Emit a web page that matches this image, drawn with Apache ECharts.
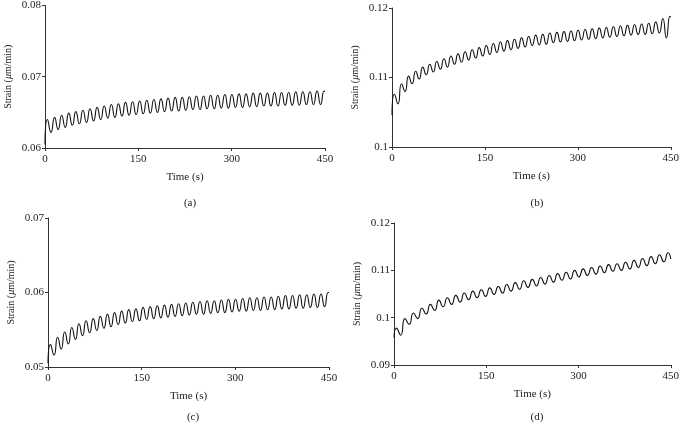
<!DOCTYPE html>
<html><head><meta charset="utf-8">
<script src="https://cdn.jsdelivr.net/npm/echarts@6/dist/echarts.min.js"></script>
<style>html,body{margin:0;padding:0;background:#fff}#c{width:682px;height:423px}</style>
</head><body><div id="c"></div>
<script>
// sample times (s) for panels a, b, c
const timeABC = [0, 4, 9.7, 15.4, 21.1, 26.8, 32.5, 38.2, 43.9, 49.6, 55.3, 61, 66.7, 72.4, 78.1, 83.8, 89.5, 95.2, 100.9, 106.6, 112.3, 118, 123.7, 129.4, 135.1, 140.8, 146.5, 152.2, 157.9, 163.6, 169.3, 175, 180.7, 186.4, 192.1, 197.8, 203.5, 209.2, 214.9, 220.6, 226.3, 232, 237.7, 243.4, 249.1, 254.8, 260.5, 266.2, 271.9, 277.6, 283.3, 289, 294.7, 300.4, 306.1, 311.8, 317.5, 323.2, 328.9, 334.6, 340.3, 346, 351.7, 357.4, 363.1, 368.8, 374.5, 380.2, 385.9, 391.6, 397.3, 403, 408.7, 414.4, 420.1, 425.8, 431.5, 437.2, 442.9, 448.6, 450];
// sample times (s) for panel d
const timeD = [0, 4, 10.9, 17.8, 24.7, 31.6, 38.5, 45.4, 52.3, 59.2, 66.1, 73, 79.9, 86.8, 93.7, 100.6, 107.5, 114.4, 121.3, 128.2, 135.1, 142, 148.9, 155.8, 162.7, 169.6, 176.5, 183.4, 190.3, 197.2, 204.1, 211, 217.9, 224.8, 231.7, 238.6, 245.5, 252.4, 259.3, 266.2, 273.1, 280, 286.9, 293.8, 300.7, 307.6, 314.5, 321.4, 328.3, 335.2, 342.1, 349, 355.9, 362.8, 369.7, 376.6, 383.5, 390.4, 397.3, 404.2, 411.1, 418, 424.9, 431.8, 438.7, 445.6, 450];

const strainA = [0.0605,
 0.0640, 0.0622, 0.0643, 0.0626, 0.0646, 0.0629, 0.0649, 0.0632, 0.0651, 0.0634,
 0.0653, 0.0636, 0.0655, 0.0638, 0.0657, 0.0640, 0.0659, 0.0642, 0.0661, 0.0643,
 0.0662, 0.0645, 0.0664, 0.0646, 0.0665, 0.0647, 0.0666, 0.0648, 0.0667, 0.0649,
 0.0668, 0.0650, 0.0669, 0.0651, 0.0670, 0.0652, 0.0671, 0.0652, 0.0671, 0.0653,
 0.0672, 0.0654, 0.0673, 0.0654, 0.0673, 0.0655, 0.0674, 0.0655, 0.0674, 0.0656,
 0.0675, 0.0656, 0.0675, 0.0657, 0.0676, 0.0657, 0.0676, 0.0658, 0.0677, 0.0658,
 0.0677, 0.0659, 0.0677, 0.0659, 0.0678, 0.0659, 0.0678, 0.0660, 0.0678, 0.0660,
 0.0679, 0.0660, 0.0679, 0.0661, 0.0679, 0.0661, 0.0680, 0.0661,
 0.0680, 0.0679];

const strainB = [0.1046,
 0.1076, 0.1062, 0.1091, 0.1080, 0.1102, 0.1091, 0.1109, 0.1098, 0.1115, 0.1104,
 0.1119, 0.1108, 0.1123, 0.1112, 0.1127, 0.1115, 0.1131, 0.1119, 0.1134, 0.1122,
 0.1137, 0.1125, 0.1140, 0.1128, 0.1143, 0.1131, 0.1146, 0.1133, 0.1149, 0.1136,
 0.1151, 0.1138, 0.1153, 0.1140, 0.1155, 0.1142, 0.1157, 0.1144, 0.1159, 0.1146,
 0.1161, 0.1147, 0.1162, 0.1148, 0.1164, 0.1150, 0.1165, 0.1151, 0.1166, 0.1152,
 0.1167, 0.1153, 0.1168, 0.1154, 0.1169, 0.1155, 0.1170, 0.1156, 0.1171, 0.1157,
 0.1172, 0.1158, 0.1173, 0.1159, 0.1174, 0.1160, 0.1175, 0.1161, 0.1176, 0.1162,
 0.1177, 0.1162, 0.1178, 0.1163, 0.1180, 0.1164, 0.1185, 0.1157,
 0.1188, 0.1187];

const strainC = [0.0505,
 0.0530, 0.0516, 0.0540, 0.0524, 0.0547, 0.0531, 0.0553, 0.0537, 0.0558, 0.0542,
 0.0562, 0.0546, 0.0565, 0.0549, 0.0568, 0.0552, 0.0571, 0.0554, 0.0573, 0.0557,
 0.0575, 0.0559, 0.0577, 0.0561, 0.0578, 0.0562, 0.0580, 0.0564, 0.0581, 0.0565,
 0.0582, 0.0566, 0.0583, 0.0567, 0.0584, 0.0568, 0.0585, 0.0569, 0.0586, 0.0570,
 0.0587, 0.0571, 0.0588, 0.0571, 0.0589, 0.0572, 0.0589, 0.0573, 0.0590, 0.0573,
 0.0591, 0.0574, 0.0591, 0.0575, 0.0592, 0.0575, 0.0593, 0.0576, 0.0593, 0.0576,
 0.0594, 0.0577, 0.0594, 0.0577, 0.0595, 0.0578, 0.0596, 0.0578, 0.0596, 0.0579,
 0.0597, 0.0579, 0.0597, 0.0580, 0.0598, 0.0580, 0.0598, 0.0581,
 0.0600, 0.0600];

const strainD = [0.0958,
 0.0978, 0.0963, 0.0998, 0.0986, 0.1010, 0.0998, 0.1020, 0.1008, 0.1028, 0.1015,
 0.1037, 0.1023, 0.1042, 0.1028, 0.1047, 0.1033, 0.1052, 0.1038, 0.1056, 0.1042,
 0.1059, 0.1045, 0.1063, 0.1049, 0.1066, 0.1052, 0.1070, 0.1056, 0.1074, 0.1060,
 0.1078, 0.1064, 0.1081, 0.1067, 0.1085, 0.1071, 0.1089, 0.1075, 0.1093, 0.1079,
 0.1096, 0.1082, 0.1100, 0.1086, 0.1103, 0.1089, 0.1106, 0.1092, 0.1109, 0.1095,
 0.1112, 0.1098, 0.1114, 0.1100, 0.1117, 0.1103, 0.1121, 0.1106, 0.1125, 0.1110,
 0.1129, 0.1114, 0.1133, 0.1118,
 0.1137, 0.1124];

const xTicks = [0, 150, 300, 450];
const yRanges = [[0.06, 0.08], [0.10, 0.12], [0.05, 0.07], [0.09, 0.12]];
const panelLabels = ['(a)', '(b)', '(c)', '(d)'];
const xName = 'Time (s)';

const FONT = '"Liberation Serif", "DejaVu Serif", serif';
const TXT = '#222';
const grids = [
  {left: 45, top: 5, width: 280, height: 143},
  {left: 392, top: 8, width: 282, height: 139},
  {left: 48, top: 218, width: 281, height: 149},
  {left: 394, top: 223, width: 277, height: 142}
];
const labelPos = [[185, 193], [532, 193], [188, 407], [532, 407]];
const series = [[timeABC, strainA], [timeABC, strainB], [timeABC, strainC], [timeD, strainD]];

function pairs(t, v) { return t.map((x, i) => [x, v[i]]); }

const option = {
  animation: false,
  backgroundColor: '#fff',
  grid: grids,
  title: panelLabels.map((s, i) => ({
    text: s, left: labelPos[i][0], top: labelPos[i][1], textAlign: 'center',
    textStyle: {fontFamily: FONT, fontSize: 11, fontWeight: 'normal', color: TXT}
  })),
  xAxis: grids.map((g, i) => ({
    type: 'value', gridIndex: i, min: 0, max: 450, interval: 150,
    name: xName, nameLocation: 'middle', nameGap: 24,
    nameTextStyle: {fontFamily: FONT, fontSize: 11, color: TXT},
    axisLine: {lineStyle: {color: '#333', width: 1}},
    axisTick: {show: true, length: 3, lineStyle: {color: '#333'}},
    axisLabel: {fontFamily: FONT, fontSize: 11, color: TXT, margin: 6},
    splitLine: {show: false}
  })),
  yAxis: grids.map((g, i) => ({
    type: 'value', gridIndex: i, min: yRanges[i][0], max: yRanges[i][1], interval: 0.01,
    name: '{n|Strain (}{i|\u03bc}{n|m/min)}', nameLocation: 'middle', nameGap: 32,
    nameTextStyle: {fontFamily: FONT, fontSize: 10, color: TXT,
      rich: {n: {fontFamily: FONT, fontSize: 10, color: TXT}, i: {fontFamily: FONT, fontSize: 10, color: TXT, fontStyle: 'italic'}}},
    axisLine: {show: true, lineStyle: {color: '#333', width: 1}},
    axisTick: {show: true, length: 3, lineStyle: {color: '#333'}},
    axisLabel: {fontFamily: FONT, fontSize: 11, color: TXT, margin: 4},
    splitLine: {show: false}
  })),
  series: series.map((s, i) => ({
    type: 'line', xAxisIndex: i, yAxisIndex: i,
    data: pairs(s[0], s[1]), smooth: 0.6, symbol: 'none',
    lineStyle: {color: '#111', width: 1.1}
  }))
};
echarts.init(document.getElementById('c')).setOption(option);
</script></body></html>
